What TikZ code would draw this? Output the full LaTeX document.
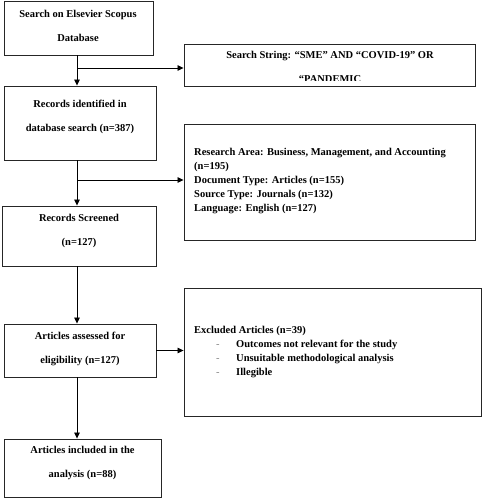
\documentclass[tikz,border=0pt]{standalone}
\usepackage{fontspec}
\setmainfont{Liberation Serif}
\usepackage{xcolor}
\usetikzlibrary{arrows.meta}
\tikzset{
box/.style={
  draw=black!85,
  line width=0.9pt,
  rectangle,
  inner sep=0pt
},
txt/.style={
  inner sep=0pt,
  font=\bfseries\fontsize{10.5}{14}\selectfont
},
arr/.style={line width=0.8pt, -{Triangle[length=6pt,width=5.5pt]}},
}
\newcommand{\itm}[1]{\hspace*{22pt}\makebox[20pt][l]{\textcolor{gray}{\mdseries -}}#1}

\begin{document}
\begin{tikzpicture}[x=1pt,y=-1pt]
\useasboundingbox (0,0) rectangle (483,500);
% the boxes
\node[box, minimum width=149pt, minimum height=54pt] (b1) at (78.5,28) {};
\node[box, minimum width=152pt, minimum height=74pt] (b2) at (80,123) {};
\node[box, minimum width=291pt, minimum height=42pt] (b3) at (329.5,65) {};
\node[box, minimum width=291pt, minimum height=116pt] (b4) at (329.5,182) {};
\node[box, minimum width=154pt, minimum height=60pt] (b5) at (79,236) {};
\node[box, minimum width=152pt, minimum height=53pt] (b6) at (80,350.5) {};
\node[box, minimum width=297pt, minimum height=128pt] (b7) at (332.5,352) {};
\node[box, minimum width=157pt, minimum height=58pt] (b8) at (82.5,468) {};
% the texts
\node[txt, align=center] (t1) at (78,26) {Search on Elsevier Scopus\\[10pt]Database};
\node[txt, align=center] (t2) at (80,117) {Records identified in\\[10pt]database search (n=387)};
\begin{scope}
\clip (b3.north west) rectangle ([yshift=5.5pt]b3.south east);
\node[txt, align=center] (t3) at (330,67) {Search String: “SME” AND “COVID-19” OR\\[10pt]“PANDEMIC};
\end{scope}
\node[txt, align=left, anchor=west] (t4) at (194,181.5) {Research Area: Business, Management, and Accounting\\(n=195)\\Document Type: Articles (n=155)\\Source Type: Journals (n=132)\\Language: English (n=127)};
\node[txt, align=center] (t5) at (79,231) {Records Screened\\[10pt](n=127)};
\node[txt, align=center] (t6) at (80,348.5) {Articles assessed for\\[10pt]eligibility (n=127)};
\node[txt, align=left, anchor=west] (t7) at (194,352) {Excluded Articles (n=39)\\\itm{Outcomes not relevant for the study}\\\itm{Unsuitable methodological analysis}\\\itm{Illegible}};
\node[txt, align=center] (t8) at (82.5,463) {Articles included in the\\[10pt]analysis (n=88)};
% the arrows
\coordinate (spine) at (77,0);
\coordinate (j1) at (77,68);
\coordinate (j2) at (77,180);
\foreach \a/\b in {b1/b2,b2/b5,b5/b6,b6/b8}
{
  \draw[arr] (\a.south -| spine) -- (\b.north -| spine);
}
\draw[arr] (j1) -- (j1 -| b3.west);
\draw[arr] (j2) -- (j2 -| b4.west);
\draw[arr] (b6.east) -- (b6.east -| b7.west);
\end{tikzpicture}
\end{document}
